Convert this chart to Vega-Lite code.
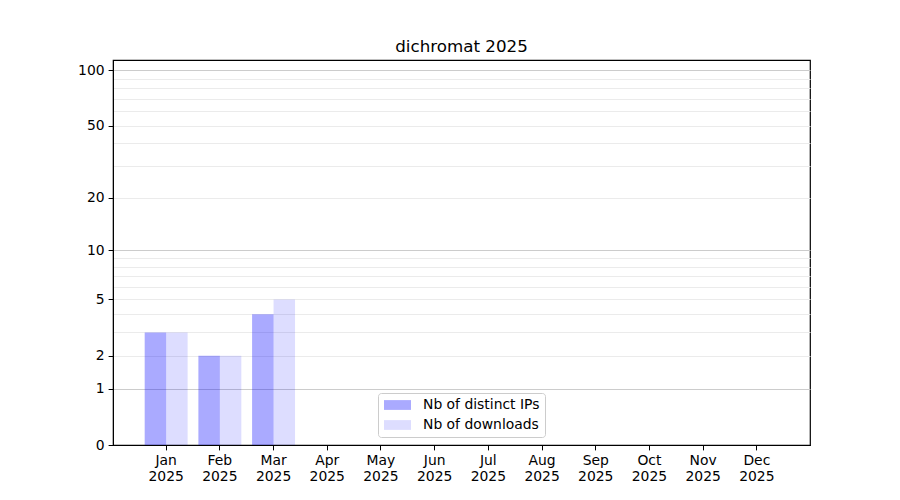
{
  "$schema": "https://vega.github.io/schema/vega-lite/v6.json",
  "autosize": "none",
  "width": 697,
  "height": 385,
  "padding": {"left": 113, "top": 60, "right": 90, "bottom": 55},
  "background": "white",
  "title": {"text": "dichromat 2025", "font": "DejaVu Sans", "fontSize": 16.7, "fontWeight": "normal", "color": "black", "offset": 4},
  "config": {
    "view": {"stroke": "black", "strokeWidth": 1.2},
    "font": "DejaVu Sans"
  },
  "data": {
    "values": [
      {"month": "Jan 2025", "series": "Nb of distinct IPs", "count": 3},
      {"month": "Feb 2025", "series": "Nb of distinct IPs", "count": 2},
      {"month": "Mar 2025", "series": "Nb of distinct IPs", "count": 4},
      {"month": "Apr 2025", "series": "Nb of distinct IPs", "count": 0},
      {"month": "May 2025", "series": "Nb of distinct IPs", "count": 0},
      {"month": "Jun 2025", "series": "Nb of distinct IPs", "count": 0},
      {"month": "Jul 2025", "series": "Nb of distinct IPs", "count": 0},
      {"month": "Aug 2025", "series": "Nb of distinct IPs", "count": 0},
      {"month": "Sep 2025", "series": "Nb of distinct IPs", "count": 0},
      {"month": "Oct 2025", "series": "Nb of distinct IPs", "count": 0},
      {"month": "Nov 2025", "series": "Nb of distinct IPs", "count": 0},
      {"month": "Dec 2025", "series": "Nb of distinct IPs", "count": 0},
      {"month": "Jan 2025", "series": "Nb of downloads", "count": 3},
      {"month": "Feb 2025", "series": "Nb of downloads", "count": 2},
      {"month": "Mar 2025", "series": "Nb of downloads", "count": 5},
      {"month": "Apr 2025", "series": "Nb of downloads", "count": 0},
      {"month": "May 2025", "series": "Nb of downloads", "count": 0},
      {"month": "Jun 2025", "series": "Nb of downloads", "count": 0},
      {"month": "Jul 2025", "series": "Nb of downloads", "count": 0},
      {"month": "Aug 2025", "series": "Nb of downloads", "count": 0},
      {"month": "Sep 2025", "series": "Nb of downloads", "count": 0},
      {"month": "Oct 2025", "series": "Nb of downloads", "count": 0},
      {"month": "Nov 2025", "series": "Nb of downloads", "count": 0},
      {"month": "Dec 2025", "series": "Nb of downloads", "count": 0}
    ]
  },
  "mark": {"type": "bar"},
  "encoding": {
    "x": {
      "field": "month",
      "type": "nominal",
      "sort": null,
      "scale": {"paddingInner": 0.2, "paddingOuter": 0.59},
      "axis": {
        "title": null,
        "labelAngle": 0,
        "labelExpr": "split(datum.value, ' ')",
        "labelFontSize": 13.9,
        "labelFont": "DejaVu Sans",
        "labelColor": "black",
        "labelLineHeight": 16,
        "labelPadding": 4,
        "tickSize": 4.9,
        "tickColor": "black",
        "domainColor": "black",
        "grid": false
      }
    },
    "xOffset": {
      "field": "series",
      "type": "nominal",
      "sort": ["Nb of distinct IPs", "Nb of downloads"],
      "scale": {"paddingInner": 0, "paddingOuter": 0}
    },
    "y": {
      "field": "count",
      "type": "quantitative",
      "scale": {"type": "symlog", "constant": 1, "domain": [0, 113.5], "nice": false, "zero": false},
      "axis": {
        "title": null,
        "values": [0, 1, 2, 3, 4, 5, 6, 7, 8, 9, 10, 20, 30, 40, 50, 60, 70, 80, 90, 100],
        "labelExpr": "indexof([0,1,2,5,10,20,50,100], datum.value) >= 0 ? datum.label : ''",
        "labelOverlap": false,
        "labelBound": false,
        "labelFontSize": 13.9,
        "labelFont": "DejaVu Sans",
        "labelColor": "black",
        "labelPadding": 4,
        "tickSize": 4.9,
        "tickColor": "black",
        "tickOpacity": {"condition": {"test": "indexof([0,1,2,5,10,20,50,100], datum.value) >= 0", "value": 1}, "value": 0},
        "domainColor": "black",
        "grid": true,
        "gridColor": {"condition": {"test": "datum.value == 1 || datum.value == 10 || datum.value == 100", "value": "#cccccc"}, "value": "#ebebeb"},
        "gridOpacity": {"condition": {"test": "datum.value == 0", "value": 0}, "value": 1}
      }
    },
    "color": {
      "field": "series",
      "type": "nominal",
      "sort": ["Nb of distinct IPs", "Nb of downloads"],
      "scale": {"domain": ["Nb of distinct IPs", "Nb of downloads"], "range": ["rgba(0,0,255,0.333)", "rgba(0,0,255,0.133)"]},
      "legend": {
        "title": null,
        "orient": "none",
        "legendX": 265,
        "legendY": 333,
        "padding": 5,
        "fillColor": "rgba(255,255,255,0.8)",
        "strokeColor": "#cccccc",
        "cornerRadius": 3,
        "symbolType": "M-0.86,-0.7H3V0.7H-0.86Z",
        "symbolSize": 196,
        "symbolStrokeWidth": 0,
        "symbolOpacity": 1,
        "labelOffset": 26,
        "labelFontSize": 13.9,
        "labelFont": "DejaVu Sans",
        "labelColor": "black",
        "rowPadding": 6,
        "labelLimit": 300
      }
    }
  }
}
